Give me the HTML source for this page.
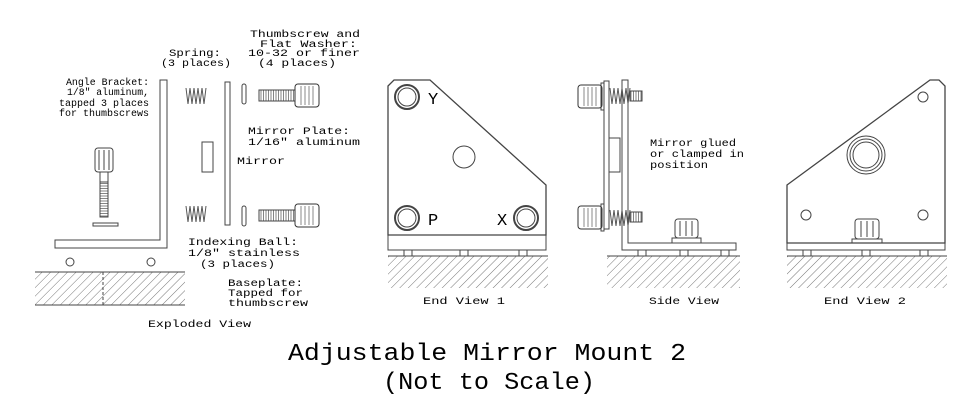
<!DOCTYPE html>
<html><head><style>
html,body{margin:0;padding:0;background:#fff;}
svg{display:block;}
text{font-family:"Liberation Mono",monospace;fill:#000;}
.s{font-size:10px;}
</style></head><body>
<svg width="971" height="413" viewBox="0 0 971 413" xmlns="http://www.w3.org/2000/svg">
<defs>
<pattern id="h" width="6" height="6" patternUnits="userSpaceOnUse" patternTransform="rotate(45)">
<line x1="0" y1="0" x2="0" y2="6" stroke="#777" stroke-width="1"/>
</pattern>
<pattern id="v" width="2.5" height="4" patternUnits="userSpaceOnUse">
<line x1="1" y1="0" x2="1" y2="4" stroke="#666" stroke-width="0.8"/>
</pattern>
<pattern id="hz" width="4" height="2.5" patternUnits="userSpaceOnUse">
<line x1="0" y1="1" x2="4" y2="1" stroke="#666" stroke-width="0.8"/>
</pattern>
<g id="knobH">
<rect x="0" y="0" width="24" height="23" rx="3" fill="#fff" stroke="#333"/>
<line x1="6" y1="2" x2="6" y2="21" stroke="#888"/><line x1="10" y1="2" x2="10" y2="21" stroke="#888"/>
<line x1="14" y1="2" x2="14" y2="21" stroke="#888"/><line x1="18" y1="2" x2="18" y2="21" stroke="#888"/>
</g>
<g id="spring"><polyline points="0,0 2,16 4,0 6,16 8,0 10,16 12,0 14,16 16,0 18,16 20,0" fill="none" stroke="#555" stroke-width="1"/></g>
</defs>
<g fill="none" stroke="#444" stroke-width="1">
<!-- Exploded view -->
<path d="M160,80 H167 V248 H55 V240 H160 Z" fill="#fff"/>
<circle cx="70" cy="262" r="4"/><circle cx="151" cy="262" r="4"/>
<rect x="35" y="272" width="150" height="33" fill="url(#h)" stroke="none"/>
<line x1="35" y1="272" x2="185" y2="272"/><line x1="35" y1="305" x2="185" y2="305"/>
<line x1="103" y1="272" x2="103" y2="305" stroke-dasharray="3,2"/>
<rect x="95" y="148" width="18" height="24" rx="3" fill="#fff"/>
<line x1="99" y1="150" x2="99" y2="170"/><line x1="104" y1="150" x2="104" y2="170"/><line x1="109" y1="150" x2="109" y2="170"/>
<rect x="100" y="172" width="8" height="45" fill="#fff"/>
<rect x="100" y="182" width="8" height="35" fill="url(#hz)"/>
<rect x="93" y="223" width="25" height="3"/>
<use href="#spring" x="186" y="88"/><use href="#spring" x="186" y="206"/>
<rect x="225" y="82" width="5" height="143" fill="#fff"/>
<rect x="202" y="142" width="11" height="30"/>
<rect x="242" y="84" width="4" height="20" rx="2"/><rect x="242" y="206" width="4" height="20" rx="2"/>
<rect x="259" y="90" width="36" height="11" fill="url(#v)"/><use href="#knobH" x="295" y="84"/>
<rect x="259" y="210" width="36" height="11" fill="url(#v)"/><use href="#knobH" x="295" y="204"/>

<!-- End View 1 -->
<path d="M388,86 L394,80 H430 L546,185 V235 H388 Z" stroke-width="1.3"/>
<rect x="388" y="235" width="158" height="15"/>
<circle cx="407" cy="97" r="12" stroke-width="2"/><circle cx="407" cy="97" r="9"/>
<circle cx="407" cy="218" r="12" stroke-width="2"/><circle cx="407" cy="218" r="9"/>
<circle cx="526" cy="218" r="12" stroke-width="2"/><circle cx="526" cy="218" r="9"/>
<circle cx="464" cy="157" r="11"/>
<rect x="404" y="250" width="8" height="6"/><rect x="519" y="250" width="8" height="6"/><rect x="460" y="250" width="8" height="6"/>
<rect x="388" y="256" width="160" height="32" fill="url(#h)" stroke="none"/><line x1="388" y1="256" x2="548" y2="256"/>

<!-- Side View -->
<path d="M622,80 H628 V243 H736 V250 H622 Z" fill="#fff"/>
<rect x="604" y="81" width="5" height="148"/>
<use href="#knobH" x="578" y="85"/><use href="#knobH" x="578" y="206"/>
<rect x="601" y="83" width="3" height="27"/><rect x="601" y="204" width="3" height="27"/>
<use href="#spring" x="610" y="88"/><use href="#spring" x="610" y="210"/>
<rect x="630" y="91" width="12" height="10" fill="url(#v)"/><rect x="630" y="212" width="12" height="10" fill="url(#v)"/>
<rect x="609" y="138" width="11" height="34"/>
<rect x="675" y="219" width="23" height="19" rx="3"/>
<line x1="680" y1="221" x2="680" y2="236"/><line x1="686" y1="221" x2="686" y2="236"/><line x1="692" y1="221" x2="692" y2="236"/>
<rect x="672" y="238" width="29" height="5"/>
<rect x="638" y="250" width="8" height="6"/><rect x="721" y="250" width="8" height="6"/><rect x="680" y="250" width="8" height="6"/>
<rect x="607" y="256" width="133" height="32" fill="url(#h)" stroke="none"/><line x1="607" y1="256" x2="740" y2="256"/>

<!-- End View 2 -->
<path d="M787,185 L930,80 H939 L945,86 V243 H787 Z" stroke-width="1.3"/>
<rect x="787" y="243" width="158" height="7"/>
<circle cx="923" cy="97" r="5"/><circle cx="806" cy="215" r="5"/><circle cx="923" cy="215" r="5"/>
<circle cx="866" cy="155" r="19"/><circle cx="866" cy="155" r="16"/><circle cx="866" cy="155" r="13"/>
<rect x="855" y="219" width="24" height="20" rx="3"/>
<line x1="861" y1="221" x2="861" y2="237"/><line x1="867" y1="221" x2="867" y2="237"/><line x1="873" y1="221" x2="873" y2="237"/>
<rect x="852" y="239" width="30" height="4"/>
<rect x="803" y="250" width="8" height="6"/><rect x="920" y="250" width="8" height="6"/><rect x="862" y="250" width="8" height="6"/>
<rect x="787" y="256" width="160" height="32" fill="url(#h)" stroke="none"/><line x1="787" y1="256" x2="947" y2="256"/>
</g>

<g class="s">
<text x="169" y="56" textLength="52" lengthAdjust="spacingAndGlyphs">Spring:</text>
<text x="161" y="66" textLength="70" lengthAdjust="spacingAndGlyphs">(3 places)</text>
<text x="250" y="37" textLength="110" lengthAdjust="spacingAndGlyphs">Thumbscrew and</text>
<text x="260" y="47" textLength="97" lengthAdjust="spacingAndGlyphs">Flat Washer:</text>
<text x="248" y="56" textLength="112" lengthAdjust="spacingAndGlyphs">10-32 or finer</text>
<text x="258" y="66" textLength="78" lengthAdjust="spacingAndGlyphs">(4 places)</text>
<text x="66" y="85" textLength="83" lengthAdjust="spacingAndGlyphs">Angle Bracket:</text>
<text x="67" y="95" textLength="82" lengthAdjust="spacingAndGlyphs">1/8" aluminum,</text>
<text x="59" y="106" textLength="90" lengthAdjust="spacingAndGlyphs">tapped 3 places</text>
<text x="59" y="116" textLength="90" lengthAdjust="spacingAndGlyphs">for thumbscrews</text>
<text x="248" y="134" textLength="102" lengthAdjust="spacingAndGlyphs">Mirror Plate:</text>
<text x="248" y="145" textLength="112" lengthAdjust="spacingAndGlyphs">1/16" aluminum</text>
<text x="237" y="164" textLength="48" lengthAdjust="spacingAndGlyphs">Mirror</text>
<text x="188" y="245" textLength="110" lengthAdjust="spacingAndGlyphs">Indexing Ball:</text>
<text x="188" y="256" textLength="112" lengthAdjust="spacingAndGlyphs">1/8" stainless</text>
<text x="200" y="267" textLength="75" lengthAdjust="spacingAndGlyphs">(3 places)</text>
<text x="228" y="286" textLength="75" lengthAdjust="spacingAndGlyphs">Baseplate:</text>
<text x="228" y="296" textLength="75" lengthAdjust="spacingAndGlyphs">Tapped for</text>
<text x="228" y="306" textLength="80" lengthAdjust="spacingAndGlyphs">thumbscrew</text>
<text x="148" y="327" textLength="103" lengthAdjust="spacingAndGlyphs">Exploded View</text>
<text x="650" y="146" textLength="86" lengthAdjust="spacingAndGlyphs">Mirror glued</text>
<text x="650" y="157" textLength="94" lengthAdjust="spacingAndGlyphs">or clamped in</text>
<text x="650" y="168" textLength="58" lengthAdjust="spacingAndGlyphs">position</text>
<text x="423" y="304" textLength="82" lengthAdjust="spacingAndGlyphs">End View 1</text>
<text x="649" y="304" textLength="70" lengthAdjust="spacingAndGlyphs">Side View</text>
<text x="824" y="304" textLength="82" lengthAdjust="spacingAndGlyphs">End View 2</text>
</g>
<text x="428" y="104" font-size="17" font-family="Liberation Serif, serif">Y</text>
<text x="428" y="225" font-size="17" font-family="Liberation Serif, serif">P</text>
<text x="497" y="225" font-size="17" font-family="Liberation Serif, serif">X</text>
<text x="288" y="360" font-size="24" textLength="398" lengthAdjust="spacingAndGlyphs" fill="#222">Adjustable Mirror Mount 2</text>
<text x="383" y="389" font-size="24" textLength="212" lengthAdjust="spacingAndGlyphs" fill="#222">(Not to Scale)</text>
</svg>
</body></html>
